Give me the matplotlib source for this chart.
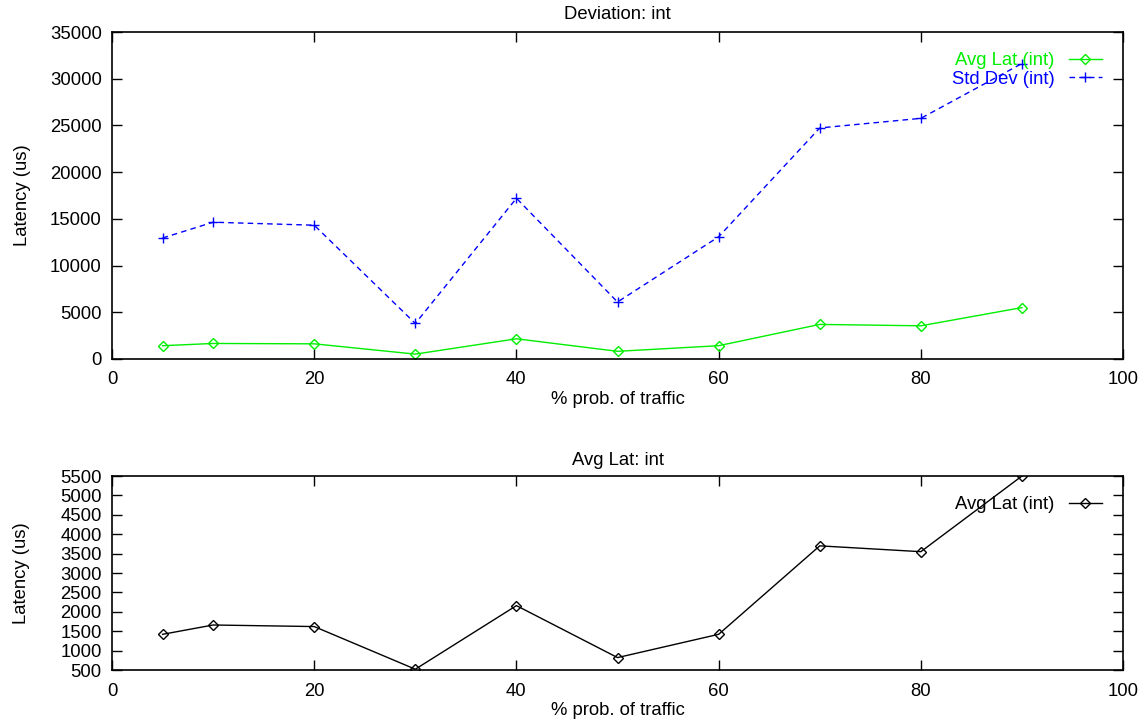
import matplotlib
matplotlib.use("Agg")
import matplotlib.pyplot as plt

plt.rcParams["font.family"] = ["Liberation Sans", "DejaVu Sans"]

# ── Data ─────────────────────────────────────────────────────────────────────
traffic = [5, 10, 20, 30, 40, 50, 60, 70, 80, 90]
avg_lat = [1420, 1660, 1620, 520, 2160, 820, 1420, 3700, 3550, 5500]
std_dev = [12950, 14640, 14320, 3800, 17200, 6100, 13080, 24730, 25760, 31630]

GREEN = "#00ee00"
BLUE = "#0000ff"
FS = 13.3


def style_axes(ax, ylabelpad):
    ax.tick_params(direction="in", length=7, width=1, top=True, right=True,
                   labelsize=FS)
    ax.tick_params(axis="y", pad=7.5)
    ax.tick_params(axis="x", pad=9)
    for s in ax.spines.values():
        s.set_linewidth(1.2)
    ax.set_xlabel("% prob. of traffic", fontsize=FS, labelpad=1.5)
    ax.set_ylabel("Latency (us)", fontsize=FS, labelpad=ylabelpad)


def add_legend(ax, y_anchor, colors=None):
    leg = ax.legend(loc="upper right", bbox_to_anchor=(0.979, y_anchor),
                    frameon=False, markerfirst=False, fontsize=FS,
                    handlelength=1.8, handletextpad=0.75, labelspacing=0.1,
                    borderaxespad=0, borderpad=0)
    if colors:
        for txt, c in zip(leg.get_texts(), colors):
            txt.set_color(c)
    return leg


fig = plt.figure(figsize=(11.42, 7.23), dpi=100)

# ── Top: deviation ───────────────────────────────────────────────────────────
ax1 = fig.add_axes([0.0981, 0.5035, 0.8853, 0.4522])
ax1.plot(traffic, avg_lat, color=GREEN, lw=1, marker="D", ms=5,
         mfc="none", mec=GREEN, label="Avg Lat (int)")
ax1.plot(traffic, std_dev, color=BLUE, lw=1, ls=(0, (4, 3)), marker="+",
         ms=7, mew=1, label="Std Dev (int)")
ax1.set_xlim(0, 100)
ax1.set_ylim(0, 35000)
ax1.set_xticks(range(0, 101, 20))
ax1.set_yticks(range(0, 35001, 5000))
ax1.set_title("Deviation: int", fontsize=FS, pad=9.5)
style_axes(ax1, 13.5)
add_legend(ax1, 0.939, [GREEN, BLUE])

# ── Bottom: average latency ──────────────────────────────────────────────────
ax2 = fig.add_axes([0.0981, 0.0733, 0.8853, 0.2683])
ax2.plot(traffic, avg_lat, color="black", lw=1, marker="D", ms=5,
         mfc="none", mec="black", label="Avg Lat (int)")
ax2.set_xlim(0, 100)
ax2.set_ylim(500, 5500)
ax2.set_xticks(range(0, 101, 20))
ax2.set_yticks(range(500, 5501, 500))
ax2.set_title("Avg Lat: int", fontsize=FS, pad=8)
style_axes(ax2, 21.5)
add_legend(ax2, 0.897)

fig.savefig("out.png", dpi=100)
